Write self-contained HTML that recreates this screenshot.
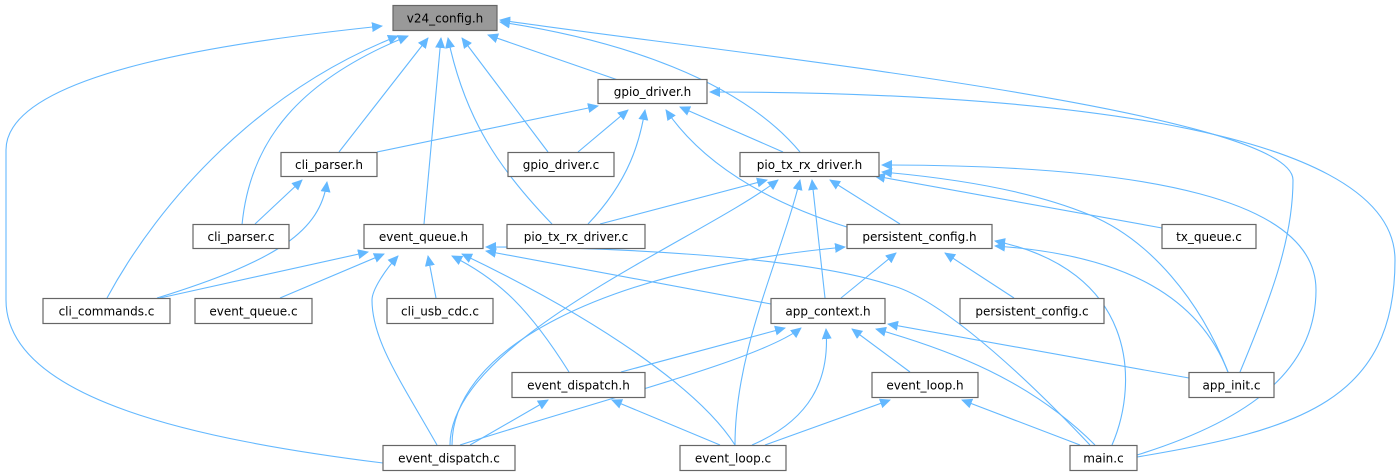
<!DOCTYPE html>
<html><head><meta charset="utf-8"><style>
html,body{margin:0;padding:0;background:#fff;}
svg{display:block;}
text{font-family:"DejaVu Sans","Liberation Sans",sans-serif;font-size:12px;fill:#000;}
.e{fill:none;stroke:#63b8ff;stroke-width:1.1;}
.n{fill:#fff;stroke:#666;stroke-width:1.2;}
</style></head><body>
<svg width="1400" height="476" viewBox="0 0 1400 476" xmlns="http://www.w3.org/2000/svg">
<defs>
<marker id="a" markerWidth="11" markerHeight="10" refX="10" refY="5" orient="auto" markerUnits="userSpaceOnUse">
<path d="M0,0 L11,5 L0,10 Z" fill="#63b8ff"/>
</marker>
</defs>
<g class="e" marker-end="url(#a)">
<!-- v24_config.h -->
<path d="M383,463 C200,440 6,400 6,300 L6,150 C6,70 250,40 382,26"/>
<path d="M107,298 C160,200 260,90 398,36"/>
<path d="M242,225 C250,140 300,80 408,36"/>
<path d="M339,152 L428,38"/>
<path d="M424,224 L441,38"/>
<path d="M552,224 C500,170 465,120 448,38"/>
<path d="M548,152 L462,38"/>
<path d="M618,80 L488,35"/>
<path d="M800,152 C740,80 620,40 500,22"/>
<path d="M1240,372 C1270,300 1293,240 1293,180 C1293,110 700,50 500,20"/>
<!-- gpio_driver.h -->
<path d="M377,152 L598,106"/>
<path d="M578,152 L628,110"/>
<path d="M588,224 C630,180 640,140 645,110"/>
<path d="M850,228 C760,200 700,160 666,110"/>
<path d="M783,152 L680,107"/>
<path d="M1137,457 C1300,430 1395,400 1395,260 C1395,120 1000,92 710,92"/>
<!-- cli_parser.h -->
<path d="M255,224 L302,180"/>
<path d="M157,298 C280,260 320,230 327,182"/>
<!-- pio_tx_rx_driver.h -->
<path d="M600,224 L767,180"/>
<path d="M450,445 C450,340 700,240 778,180"/>
<path d="M735,445 C735,350 780,260 800,180"/>
<path d="M825,298 L812,180"/>
<path d="M900,224 L830,180"/>
<path d="M1162,228 L875,176"/>
<path d="M1228,372 C1200,300 1150,240 1090,215 C1030,190 950,178 882,172"/>
<path d="M1137,455 C1250,420 1316,370 1316,290 C1316,200 1150,165 882,165"/>
<!-- event_queue.h -->
<path d="M160,298 L368,252"/>
<path d="M280,298 L384,254"/>
<path d="M437,445 C400,380 372,340 372,300 C372,290 385,270 398,256"/>
<path d="M436,298 L428,256"/>
<path d="M569,372 C530,310 500,280 452,256"/>
<path d="M735,445 C700,390 600,320 462,254"/>
<path d="M771,304 L486,251"/>
<path d="M1090,445 C1000,350 930,295 890,285 C800,255 600,247 486,247"/>
<!-- persistent_config.h -->
<path d="M452,445 C452,350 600,270 845,247"/>
<path d="M841,298 L896,253"/>
<path d="M1014,298 L945,253"/>
<path d="M1112,445 C1140,380 1135,270 995,241"/>
<path d="M1228,372 C1200,300 1130,255 995,246"/>
<!-- app_context.h -->
<path d="M621,372 L785,328"/>
<path d="M460,445 C600,400 760,360 801,328"/>
<path d="M752,445 C810,420 830,380 826,329"/>
<path d="M910,372 L852,329"/>
<path d="M1095,445 C1030,380 950,350 876,329"/>
<path d="M1189,378 L888,324"/>
<!-- event_dispatch.h -->
<path d="M470,445 L548,400"/>
<path d="M720,445 L612,400"/>
<!-- event_loop.h -->
<path d="M765,445 L890,400"/>
<path d="M1080,445 L962,400"/>
</g>
<g>
<rect x="393" y="5.5" width="104" height="25" fill="#999" stroke="#666" stroke-width="1.2"/>
<text x="445" y="22.5" text-anchor="middle">v24_config.h</text>
<rect class="n" x="598" y="79.5" width="109" height="24"/><text x="652.5" y="96" text-anchor="middle">gpio_driver.h</text>
<rect class="n" x="281" y="152.5" width="96" height="24"/><text x="329" y="169" text-anchor="middle">cli_parser.h</text>
<rect class="n" x="508" y="152.5" width="106" height="24"/><text x="561" y="169" text-anchor="middle">gpio_driver.c</text>
<rect class="n" x="740" y="152.5" width="139" height="24"/><text x="809.5" y="169" text-anchor="middle">pio_tx_rx_driver.h</text>
<rect class="n" x="193" y="224.5" width="96" height="24"/><text x="241" y="241" text-anchor="middle">cli_parser.c</text>
<rect class="n" x="364" y="224.5" width="119" height="24"/><text x="423.5" y="241" text-anchor="middle">event_queue.h</text>
<rect class="n" x="507" y="224.5" width="138" height="24"/><text x="576" y="241" text-anchor="middle">pio_tx_rx_driver.c</text>
<rect class="n" x="847" y="224.5" width="145" height="24"/><text x="919.5" y="241" text-anchor="middle">persistent_config.h</text>
<rect class="n" x="1162" y="224.5" width="94" height="24"/><text x="1209" y="241" text-anchor="middle">tx_queue.c</text>
<rect class="n" x="43" y="298.5" width="127" height="25"/><text x="106.5" y="315.5" text-anchor="middle">cli_commands.c</text>
<rect class="n" x="195" y="298.5" width="117" height="25"/><text x="253.5" y="315.5" text-anchor="middle">event_queue.c</text>
<rect class="n" x="387" y="298.5" width="106" height="25"/><text x="440" y="315.5" text-anchor="middle">cli_usb_cdc.c</text>
<rect class="n" x="771" y="298.5" width="114" height="25"/><text x="828" y="315.5" text-anchor="middle">app_context.h</text>
<rect class="n" x="960" y="298.5" width="144" height="25"/><text x="1032" y="315.5" text-anchor="middle">persistent_config.c</text>
<rect class="n" x="512" y="372.5" width="133" height="25"/><text x="578.5" y="389.5" text-anchor="middle">event_dispatch.h</text>
<rect class="n" x="872" y="372.5" width="106" height="25"/><text x="925" y="389.5" text-anchor="middle">event_loop.h</text>
<rect class="n" x="1189" y="372.5" width="85" height="25"/><text x="1231.5" y="389.5" text-anchor="middle">app_init.c</text>
<rect class="n" x="383" y="445.5" width="132" height="25"/><text x="449" y="462.5" text-anchor="middle">event_dispatch.c</text>
<rect class="n" x="680" y="445.5" width="106" height="25"/><text x="733" y="462.5" text-anchor="middle">event_loop.c</text>
<rect class="n" x="1070" y="445.5" width="67" height="25"/><text x="1103.5" y="462.5" text-anchor="middle">main.c</text>
</g>
</svg>
</body></html>
